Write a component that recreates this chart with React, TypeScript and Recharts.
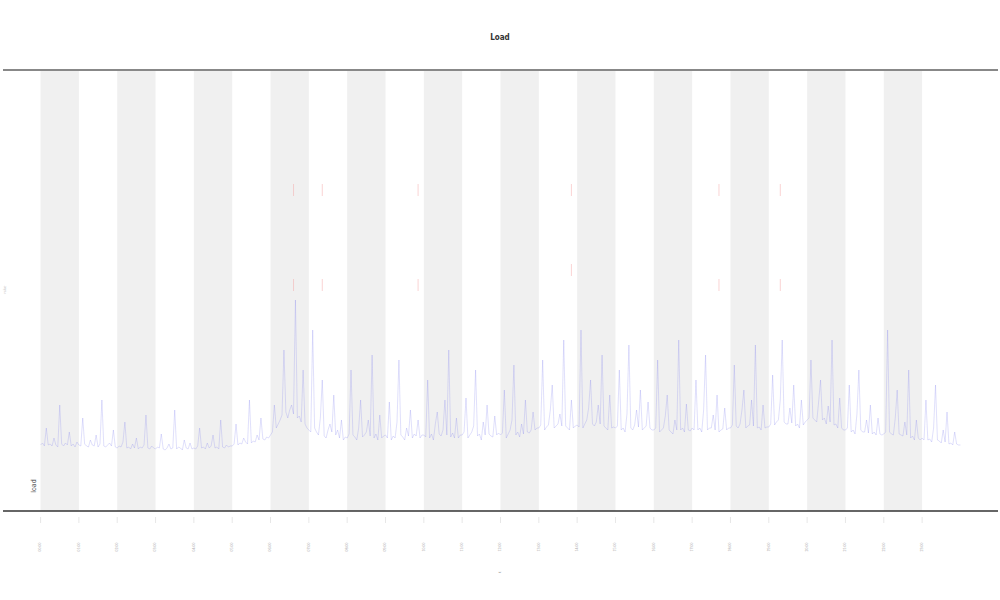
import React from "react";
import {
  ComposedChart,
  Line,
  Scatter,
  XAxis,
  YAxis,
  ReferenceArea,
  ReferenceLine,
} from "recharts";

// one reading every 3 minutes (0.05 h), from 00:00 to 24:00
const stepHours = 0.05;

const values: number[] = [
  // 00
  0.45, 0.47, 0.44, 0.62, 0.45, 0.46, 0.44, 0.52, 0.45, 0.43, 0.85, 0.46, 0.44, 0.47, 0.45, 0.58, 0.44, 0.46, 0.43, 0.48,
  // 01
  0.45, 0.44, 0.72, 0.46, 0.44, 0.43, 0.5, 0.45, 0.44, 0.55, 0.43, 0.46, 0.9, 0.44, 0.43, 0.45, 0.47, 0.44, 0.6, 0.43,
  // 02
  0.42, 0.44, 0.43, 0.48, 0.68, 0.42, 0.43, 0.41, 0.46, 0.42, 0.52, 0.41, 0.43, 0.42, 0.45, 0.75, 0.42, 0.41, 0.44, 0.42,
  // 03
  0.41, 0.43, 0.42, 0.56, 0.41, 0.4, 0.42, 0.46, 0.41, 0.42, 0.8, 0.41, 0.43, 0.42, 0.4, 0.5, 0.42, 0.41, 0.47, 0.41,
  // 04
  0.42, 0.41, 0.44, 0.62, 0.42, 0.43, 0.41, 0.47, 0.42, 0.44, 0.55, 0.42, 0.43, 0.41, 0.7, 0.43, 0.42, 0.45, 0.43, 0.44,
  // 05
  0.44, 0.46, 0.66, 0.45, 0.47, 0.46, 0.52, 0.48, 0.46, 0.9, 0.47, 0.49, 0.48, 0.55, 0.5, 0.72, 0.51, 0.5, 0.53, 0.52,
  // 06
  0.55, 0.58, 0.85, 0.62, 0.66, 0.7, 0.75, 1.4, 0.78, 0.72, 0.8, 0.85, 0.76, 1.9, 0.72, 0.74, 0.68, 1.2, 0.66, 0.62,
  // 07
  0.6, 0.58, 1.6, 0.62, 0.58, 0.55, 0.72, 1.1, 0.54, 0.52, 0.6, 0.66, 0.58, 0.95, 0.55, 0.6, 0.52, 0.7, 0.5, 0.53,
  // 08
  0.52, 0.56, 1.2, 0.55, 0.53, 0.5, 0.62, 0.9, 0.53, 0.55, 0.58, 0.7, 0.54, 1.35, 0.52, 0.56, 0.5, 0.75, 0.52, 0.54,
  // 09
  0.55, 0.52, 0.88, 0.5, 0.54, 0.52, 0.68, 1.3, 0.55, 0.53, 0.5, 0.62, 0.54, 0.8, 0.52, 0.56, 0.54, 0.7, 0.52, 0.55,
  // 10
  0.55, 0.53, 1.1, 0.52, 0.56, 0.5, 0.66, 0.78, 0.56, 0.54, 0.6, 0.9, 0.55, 1.4, 0.53, 0.57, 0.52, 0.72, 0.52, 0.55,
  // 11
  0.55, 0.58, 0.92, 0.52, 0.55, 0.58, 0.64, 1.2, 0.54, 0.56, 0.5, 0.68, 0.55, 0.85, 0.56, 0.54, 0.53, 0.74, 0.55, 0.57,
  // 12
  0.55, 0.57, 1.0, 0.52, 0.56, 0.6, 0.7, 1.25, 0.55, 0.58, 0.53, 0.66, 0.56, 0.9, 0.58, 0.57, 0.6, 0.78, 0.6, 0.62,
  // 13
  0.62, 0.65, 1.3, 0.6, 0.63, 0.65, 0.8, 1.05, 0.62, 0.64, 0.66, 0.76, 0.64, 1.5, 0.64, 0.62, 0.6, 0.9, 0.62, 0.64,
  // 14
  0.65, 0.63, 1.6, 0.62, 0.66, 0.7, 0.82, 1.1, 0.66, 0.64, 0.68, 0.85, 0.66, 1.35, 0.64, 0.62, 0.6, 0.95, 0.62, 0.63,
  // 15
  0.62, 0.64, 1.2, 0.6, 0.62, 0.58, 0.76, 1.45, 0.62, 0.6, 0.65, 0.8, 0.63, 1.0, 0.6, 0.62, 0.64, 0.88, 0.62, 0.6,
  // 16
  0.6, 0.62, 1.3, 0.58, 0.6, 0.62, 0.74, 0.95, 0.6, 0.58, 0.56, 0.7, 0.6, 1.5, 0.6, 0.62, 0.58, 0.86, 0.6, 0.59,
  // 17
  0.62, 0.6, 1.1, 0.6, 0.62, 0.58, 0.8, 1.35, 0.6, 0.62, 0.62, 0.75, 0.6, 0.95, 0.58, 0.6, 0.61, 0.82, 0.6, 0.62,
  // 18
  0.62, 0.65, 1.25, 0.64, 0.62, 0.66, 0.8, 1.0, 0.62, 0.64, 0.65, 0.9, 0.64, 1.45, 0.62, 0.63, 0.6, 0.85, 0.62, 0.63,
  // 19
  0.63, 0.66, 1.15, 0.65, 0.68, 0.7, 0.9, 1.5, 0.68, 0.66, 0.66, 0.82, 0.67, 1.05, 0.64, 0.66, 0.62, 0.9, 0.65, 0.68,
  // 20
  0.7, 0.72, 1.3, 0.72, 0.7, 0.68, 0.88, 1.1, 0.7, 0.72, 0.66, 0.84, 0.68, 1.5, 0.65, 0.66, 0.62, 0.92, 0.62, 0.6,
  // 21
  0.6, 0.62, 1.05, 0.58, 0.6, 0.56, 0.76, 1.2, 0.6, 0.58, 0.58, 0.7, 0.57, 0.85, 0.56, 0.58, 0.55, 0.72, 0.56, 0.55,
  // 22
  0.56, 0.58, 1.6, 0.58, 0.56, 0.55, 0.72, 1.0, 0.56, 0.55, 0.54, 0.68, 0.55, 1.2, 0.52, 0.54, 0.5, 0.7, 0.52, 0.5,
  // 23
  0.52, 0.5, 0.9, 0.5, 0.51, 0.48, 0.62, 1.05, 0.5, 0.49, 0.47, 0.6, 0.48, 0.78, 0.46, 0.47, 0.45, 0.58, 0.46, 0.45,
  // 24
  0.45,
];

// outlier markers
const markX: number[] = [6.6, 6.6, 7.35, 7.35, 9.85, 9.85, 13.85, 13.85, 17.7, 17.7, 19.3, 19.3];
const markY: number[] = [3.0, 2.05, 3.0, 2.05, 3.0, 2.05, 3.0, 2.2, 3.0, 2.05, 3.0, 2.05];

const xTicks: number[] = [0, 1, 2, 3, 4, 5, 6, 7, 8, 9, 10, 11, 12, 13, 14, 15, 16, 17, 18, 19, 20, 21, 22, 23];
const xTickLabels: string[] = [
  "00:00", "01:00", "02:00", "03:00", "04:00", "05:00", "06:00", "07:00",
  "08:00", "09:00", "10:00", "11:00", "12:00", "13:00", "14:00", "15:00",
  "16:00", "17:00", "18:00", "19:00", "20:00", "21:00", "22:00", "23:00",
];
const yTicks: number[] = [0, 1, 2, 3, 4];
const bandStarts: number[] = [0, 2, 4, 6, 8, 10, 12, 14, 16, 18, 20, 22];

const title = "Load";
const seriesName = "load";
const xLabel = "t";
const yLabel = "value";

const lineData = values.map((v, i) => ({ x: i * stepHours, v }));
const markData = markX.map((x, i) => ({ x, m: markY[i] }));

const XTick = (props: any) => {
  const { x, y, payload } = props;
  const idx = xTicks.indexOf(payload.value);
  return (
    <g>
      <line x1={x} y1={y - 2} x2={x} y2={y + 4} stroke="#ddd" strokeWidth={0.7} />
      <text
        x={x}
        y={y + 28}
        fontSize={4}
        fill="#999"
        textAnchor="middle"
        transform={`rotate(-90 ${x} ${y + 28})`}
        dominantBaseline="middle"
      >
        {idx >= 0 ? xTickLabels[idx] : ""}
      </text>
    </g>
  );
};

const YTick = (props: any) => {
  const { y, payload } = props;
  const x = 5;
  return (
    <text
      x={x}
      y={y}
      fontSize={4}
      fill="#bbb"
      textAnchor="middle"
      transform={`rotate(-90 ${x} ${y})`}
      dominantBaseline="middle"
    >
      {payload.value}
    </text>
  );
};

const MarkShape = (props: any) => {
  const { cx, cy } = props;
  return <rect x={cx - 0.5} y={cy - 6} width={1} height={12} fill="#f4a0a0" opacity={0.45} />;
};

export default function App() {
  return (
    <div style={{ position: "absolute", left: 0, top: 0, width: 1000, height: 600, background: "#fff" }}>
      <ComposedChart
        width={1000}
        height={600}
        data={lineData}
        margin={{ top: 70, right: 2, bottom: 0, left: 3 }}
      >
        <XAxis
          dataKey="x"
          type="number"
          domain={[-0.98, 24.98]}
          ticks={xTicks}
          interval={0}
          height={89}
          axisLine={{ stroke: "#333", strokeWidth: 1.5 }}
          tickLine={false}
          tick={<XTick />}
          allowDataOverflow
        />
        <YAxis
          type="number"
          domain={[-0.21, 4.2]}
          ticks={yTicks}
          width={0}
          axisLine={false}
          tickLine={false}
          tick={<YTick />}
          allowDataOverflow
        />
        {bandStarts.map((b) => (
          <ReferenceArea
            key={b}
            x1={b}
            x2={b + 1}
            y1={-0.21}
            y2={4.2}
            fill="#f0f0f0"
            fillOpacity={1}
            stroke="none"
            ifOverflow="hidden"
          />
        ))}
        <ReferenceLine y={4.2} stroke="#888" strokeWidth={2} ifOverflow="extendDomain" />
        <Line
          dataKey="v"
          type="linear"
          stroke="#7b7bef"
          strokeOpacity={0.4}
          strokeWidth={0.6}
          dot={false}
          isAnimationActive={false}
          name={seriesName}
        />
        <Scatter
          data={markData}
          dataKey="m"
          shape={<MarkShape />}
          isAnimationActive={false}
          legendType="none"
        />
        <text
          x={500}
          y={40}
          fontSize={8}
          fontWeight="bold"
          fill="#333"
          textAnchor="middle"
          fontFamily="DejaVu Sans Condensed, DejaVu Sans"
        >
          {title}
        </text>
        <text
          x={34}
          y={486}
          fontSize={7}
          fill="#555"
          textAnchor="middle"
          transform="rotate(-90 34 486)"
          dominantBaseline="middle"
          fontFamily="DejaVu Sans Condensed, DejaVu Sans"
        >
          {seriesName}
        </text>
        <text
          x={5}
          y={290}
          fontSize={4}
          fill="#bbb"
          textAnchor="middle"
          transform="rotate(-90 5 290)"
          dominantBaseline="middle"
        >
          {yLabel}
        </text>
        <text
          x={500}
          y={572}
          fontSize={5}
          fill="#888"
          textAnchor="middle"
          transform="rotate(-90 500 572)"
          dominantBaseline="middle"
        >
          {xLabel}
        </text>
      </ComposedChart>
    </div>
  );
}
